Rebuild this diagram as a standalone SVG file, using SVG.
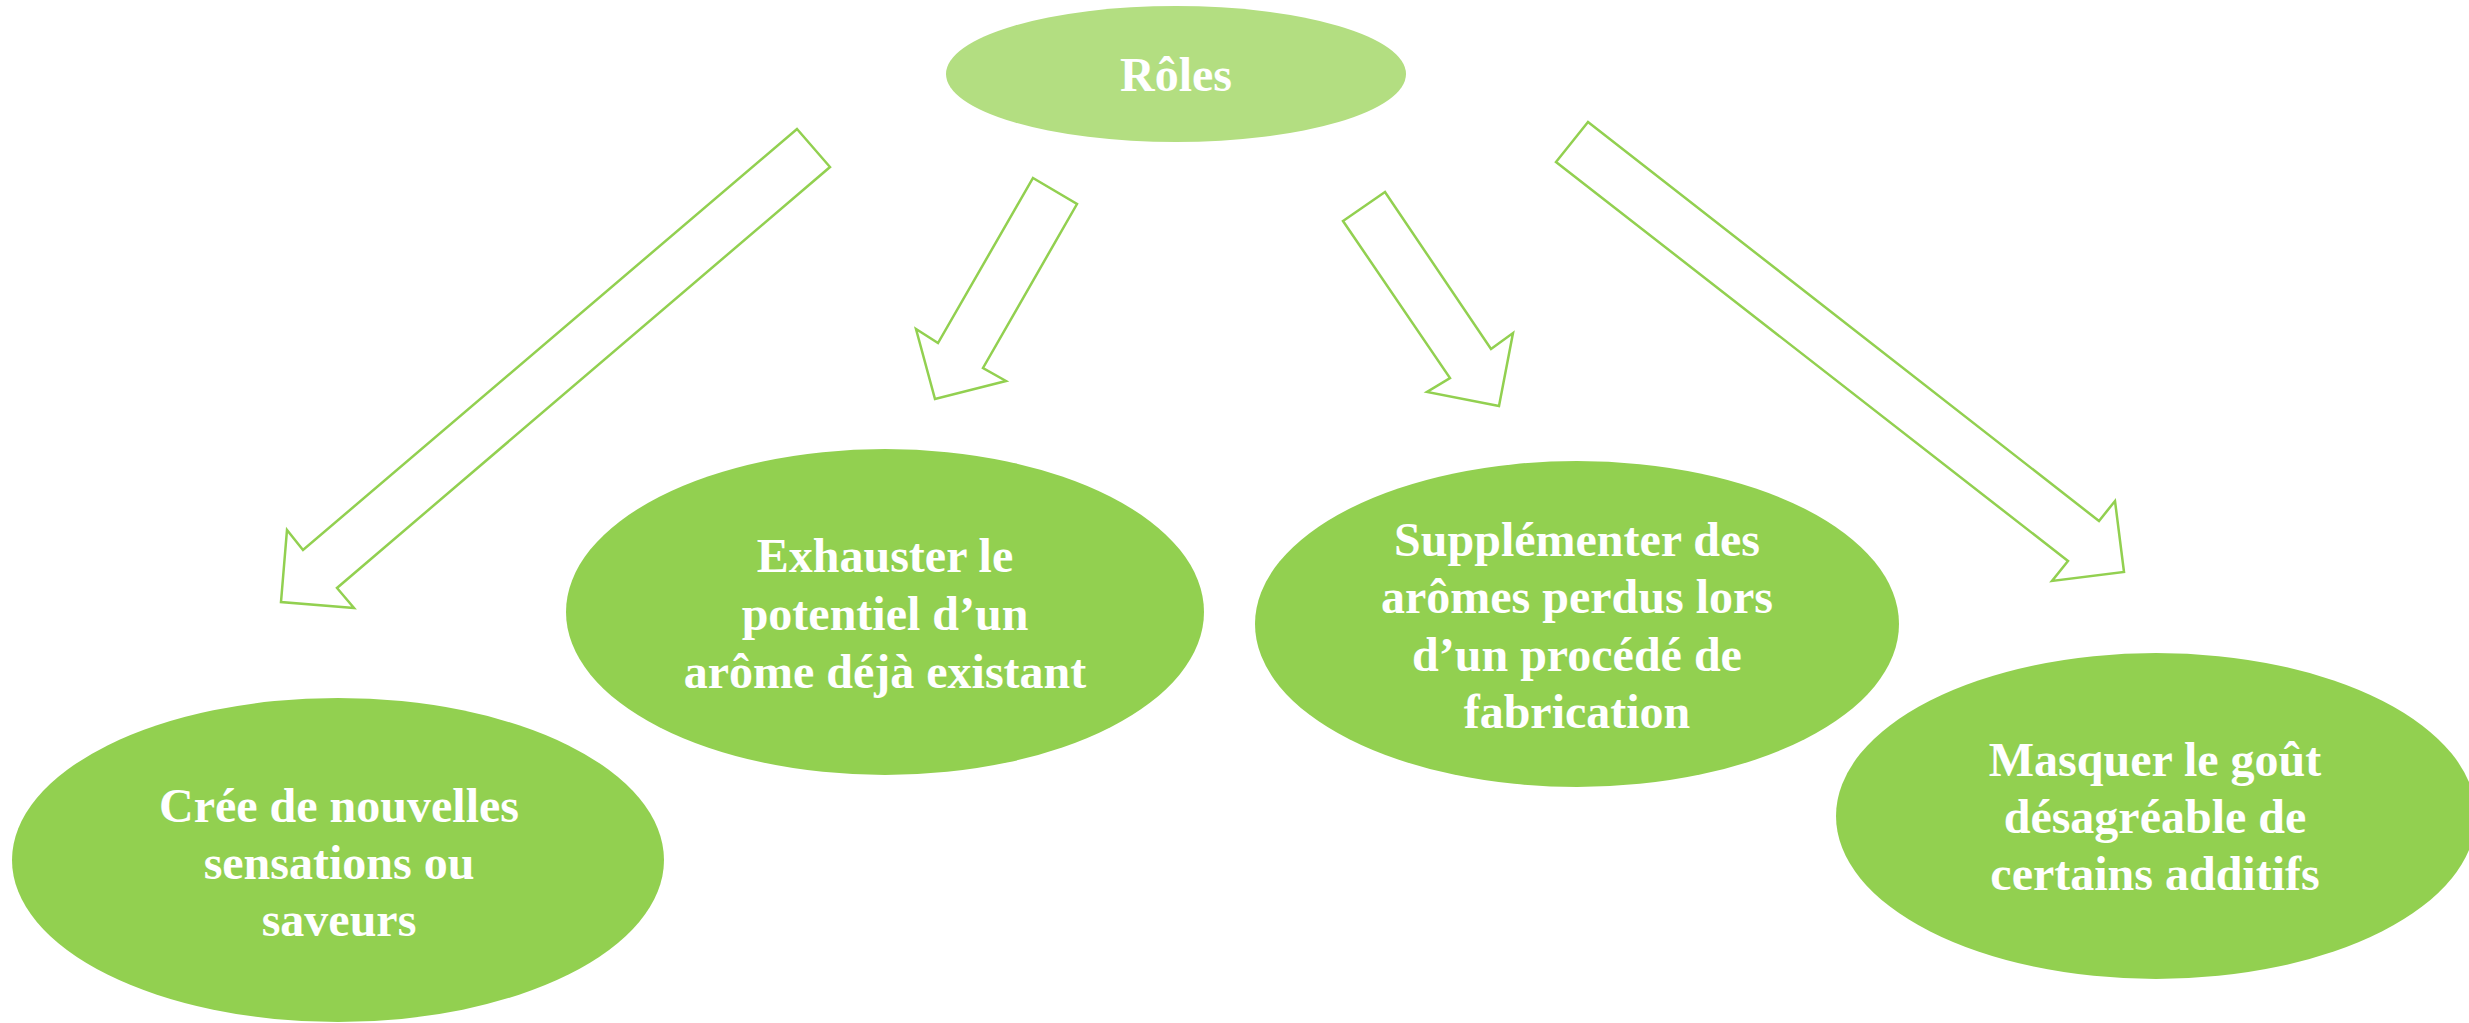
<svg xmlns="http://www.w3.org/2000/svg" width="2469" height="1023" viewBox="0 0 2469 1023">
  <style>
    .root { fill: #b3de81; }
    .leaf { fill: #92d050; }
    .label { font-family: "Liberation Serif", "Times New Roman", serif; font-weight: bold; font-size: 48px; fill: #ffffff; text-anchor: middle; }
    .block-arrow { fill: #ffffff; stroke: #92d050; stroke-width: 2.5; stroke-linejoin: miter; }
  </style>
  <rect width="2469" height="1023" fill="#ffffff"/>

  <!-- Hollow block arrows from the central topic to each role -->
  <g id="connectors">
    <polygon class="block-arrow" points="797,129 830,167 337,588 354,608 281,602 287,530 303,550"/>
    <polygon class="block-arrow" points="1033,178 1077,204 983,368 1006,381 935,399 916,329 938,343"/>
    <polygon class="block-arrow" points="1385,192 1343,221 1450,378 1427,392 1499,406 1513,333 1491,349"/>
    <polygon class="block-arrow" points="1588,122 1556,162 2068,561 2052,581 2124,572 2115,501 2099,521"/>
  </g>

  <g id="node-roles">
    <ellipse class="root" cx="1176" cy="74" rx="230" ry="68"/>
    <text class="label" x="1176" y="91">Rôles</text>
  </g>

  <g id="node-creer">
    <ellipse class="leaf" cx="338" cy="860" rx="326" ry="162"/>
    <text class="label" x="339" y="822">Crée de nouvelles</text>
    <text class="label" x="339" y="879">sensations ou</text>
    <text class="label" x="339" y="936">saveurs</text>
  </g>

  <g id="node-exhauster">
    <ellipse class="leaf" cx="885" cy="612" rx="319" ry="163"/>
    <text class="label" x="885" y="572">Exhauster le</text>
    <text class="label" x="885" y="630">potentiel d’un</text>
    <text class="label" x="885" y="688">arôme déjà existant</text>
  </g>

  <g id="node-supplementer">
    <ellipse class="leaf" cx="1577" cy="624" rx="322" ry="163"/>
    <text class="label" x="1577" y="556">Supplémenter des</text>
    <text class="label" x="1577" y="613">arômes perdus lors</text>
    <text class="label" x="1577" y="671">d’un procédé de</text>
    <text class="label" x="1577" y="728">fabrication</text>
  </g>

  <g id="node-masquer">
    <ellipse class="leaf" cx="2156" cy="816" rx="320" ry="163"/>
    <text class="label" x="2155" y="776">Masquer le goût</text>
    <text class="label" x="2155" y="833">désagréable de</text>
    <text class="label" x="2155" y="890">certains additifs</text>
  </g>
</svg>
